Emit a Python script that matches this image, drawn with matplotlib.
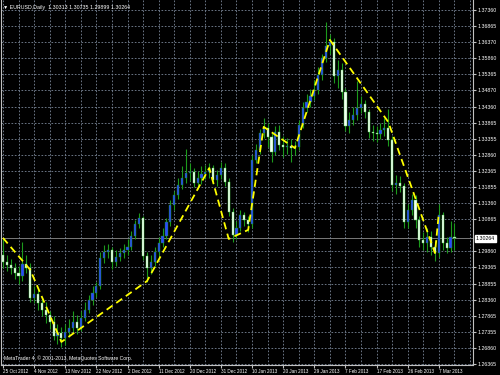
"""EURUSD 日足（MT4 風）：ローソク足 + 黄色の破線ジグザグ。"""
import matplotlib

matplotlib.use("Agg")
import matplotlib.pyplot as plt
import numpy as np

# daily closes, 25 Oct 2012 .. 11 Mar 2013
closes = [
    1.2953, 1.2944, 1.2935, 1.2919, 1.2910, 1.2947, 1.2935, 1.2842, 1.2854, 1.2826,
    1.2804, 1.2789, 1.2767, 1.2724, 1.2733, 1.2717, 1.2736, 1.2748, 1.2767, 1.2748,
    1.2779, 1.2804, 1.2835, 1.2857, 1.2879, 1.2966, 1.2984, 1.2991, 1.2953, 1.2969,
    1.2981, 1.2991, 1.3000, 1.3034, 1.3071, 1.3090, 1.2972, 1.2935, 1.2953, 1.2984,
    1.3012, 1.3034, 1.3078, 1.3130, 1.3161, 1.3193, 1.3214, 1.3230, 1.3233, 1.3199,
    1.3214, 1.3227, 1.3233, 1.3245, 1.3208, 1.3224, 1.3245, 1.3202, 1.3109, 1.3037,
    1.3059, 1.3099, 1.3084, 1.3071, 1.3270, 1.3301, 1.3354, 1.3370, 1.3342, 1.3295,
    1.3357, 1.3317, 1.3311, 1.3314, 1.3307, 1.3311, 1.3379, 1.3432, 1.3450, 1.3469,
    1.3488, 1.3534, 1.3587, 1.3624, 1.3637, 1.3531, 1.3550, 1.3481, 1.3376, 1.3394,
    1.3410, 1.3432, 1.3444, 1.3419, 1.3357, 1.3354, 1.3351, 1.3363, 1.3370, 1.3332,
    1.3193, 1.3199, 1.3189, 1.3078, 1.3115, 1.3146, 1.3084, 1.3022, 1.3012, 1.3031,
    1.3000, 1.2981, 1.3099, 1.3012, 1.2997, 1.3031, 1.30264,
]
highs = [
    1.3025, 1.2975, 1.2962, 1.2950, 1.2940, 1.3015, 1.2975, 1.2950, 1.2880, 1.2870,
    1.2845, 1.2830, 1.2800, 1.2785, 1.2760, 1.2750, 1.2760, 1.2775, 1.2800, 1.2790,
    1.2800, 1.2830, 1.2850, 1.2880, 1.2890, 1.2985, 1.3005, 1.3010, 1.3000, 1.2990,
    1.2998, 1.3010, 1.3025, 1.3050, 1.3085, 1.3105, 1.3095, 1.2985, 1.2975, 1.3000,
    1.3030, 1.3060, 1.3090, 1.3145, 1.3175, 1.3215, 1.3250, 1.3305, 1.3260, 1.3245,
    1.3235, 1.3250, 1.3255, 1.3260, 1.3255, 1.3240, 1.3265, 1.3260, 1.3215, 1.3120,
    1.3080, 1.3115, 1.3110, 1.3095, 1.3285, 1.3320, 1.3365, 1.3400, 1.3385, 1.3355,
    1.3375, 1.3380, 1.3345, 1.3340, 1.3335, 1.3330, 1.3395, 1.3450, 1.3475, 1.3490,
    1.3520, 1.3560, 1.3600, 1.3700, 1.3660, 1.3650, 1.3580, 1.3570, 1.3495, 1.3420,
    1.3435, 1.3515, 1.3470, 1.3455, 1.3430, 1.3380, 1.3375, 1.3385, 1.3400, 1.3430,
    1.3345, 1.3225, 1.3220, 1.3200, 1.3135, 1.3165, 1.3160, 1.3095, 1.3045, 1.3060,
    1.3050, 1.3020, 1.3135, 1.3110, 1.3030, 1.3080, 1.30735,
]
lows = [
    1.2935, 1.2925, 1.2915, 1.2900, 1.2885, 1.2895, 1.2920, 1.2830, 1.2825, 1.2805,
    1.2785, 1.2765, 1.2745, 1.2710, 1.2700, 1.2690, 1.2695, 1.2720, 1.2735, 1.2730,
    1.2740, 1.2770, 1.2795, 1.2820, 1.2845, 1.2870, 1.2950, 1.2965, 1.2930, 1.2940,
    1.2955, 1.2965, 1.2975, 1.2990, 1.3025, 1.3060, 1.2960, 1.2890, 1.2915, 1.2940,
    1.2970, 1.3000, 1.3025, 1.3065, 1.3115, 1.3150, 1.3180, 1.3200, 1.3205, 1.3185,
    1.3180, 1.3195, 1.3210, 1.3215, 1.3195, 1.3190, 1.3210, 1.3190, 1.3095, 1.3015,
    1.3025, 1.3050, 1.3065, 1.3045, 1.3060, 1.3260, 1.3290, 1.3340, 1.3310, 1.3265,
    1.3285, 1.3300, 1.3280, 1.3290, 1.3265, 1.3285, 1.3300, 1.3370, 1.3420, 1.3435,
    1.3455, 1.3475, 1.3520, 1.3575, 1.3600, 1.3510, 1.3495, 1.3460, 1.3360, 1.3355,
    1.3380, 1.3395, 1.3415, 1.3400, 1.3340, 1.3330, 1.3325, 1.3335, 1.3345, 1.3315,
    1.3175, 1.3165, 1.3170, 1.3060, 1.3060, 1.3100, 1.3060, 1.3000, 1.2990, 1.2985,
    1.2975, 1.2955, 1.2970, 1.2990, 1.2980, 1.2985, 1.29899,
]
first_open = 1.2975
# FX daily bars open at the previous close
opens = [first_open] + closes[:-1]

# yellow dashed zigzag (bar index, price)
zz_bars = [0, 7, 15, 37, 53, 58, 63, 67, 75, 84, 99, 111, 112]
zz_prices = [1.3028, 1.2929, 1.2705, 1.2894, 1.3245, 1.3025, 1.3053,
             1.3373, 1.3307, 1.3643, 1.3388, 1.2981, 1.3106]

date_labels = ["25 Oct 2012", "4 Nov 2012", "13 Nov 2012", "22 Nov 2012",
               "2 Dec 2012", "11 Dec 2012", "20 Dec 2012", "31 Dec 2012",
               "10 Jan 2013", "20 Jan 2013", "29 Jan 2013", "7 Feb 2013",
               "17 Feb 2013", "26 Feb 2013", "7 Mar 2013"]
price_ticks = [1.37360, 1.36865, 1.36370, 1.35860, 1.35365, 1.34870, 1.34360,
               1.33865, 1.33355, 1.32860, 1.32365, 1.31855, 1.31360, 1.30865,
               1.29860, 1.29365, 1.28855, 1.28360, 1.27865, 1.27355, 1.26860,
               1.26365]
bid = 1.30264
title = "\u25bc EURUSD,Daily  1.30313 1.30735 1.29899 1.30264"

plt.rcParams["font.family"] = ["Liberation Sans", "DejaVu Sans"]

fig = plt.figure(figsize=(5, 3.75), dpi=100, facecolor="black")
ax = fig.add_axes([0.002, 0.0267, 0.944, 0.9733], facecolor="black")

x = np.arange(len(closes))
o = np.array(opens); c = np.array(closes)
h = np.array(highs); l = np.array(lows)
bull = c >= o

ax.vlines(x, l, h, color="#1c9a1c", lw=0.8, zorder=2)
ax.bar(x[bull], (c - o)[bull], bottom=o[bull], width=0.55, color="#2a46ff",
       edgecolor="#1c9a1c", lw=0.3, zorder=3)
ax.bar(x[~bull], (o - c)[~bull], bottom=c[~bull], width=0.55, color="#f4fff4",
       edgecolor="#50d050", lw=0.3, zorder=3)

ax.plot(zz_bars, zz_prices, color="#ffff00", lw=1.3, ls=(0, (4, 2.5)), zorder=4)
ax.axhline(bid, color="#8c8c8c", lw=0.6, zorder=1.5)

ax.set_xlim(-0.513, 120.77)
ax.set_ylim(1.26334, 1.37671)

ax.set_xticks(np.arange(0, 8 * len(date_labels), 8))
ax.set_xticklabels(date_labels, ha="left")
ax.set_xticks(np.arange(0, 121, 4), minor=True)
ax.yaxis.tick_right()
ax.set_yticks(price_ticks)
ax.set_yticklabels([f"{p:.5f}" for p in price_ticks])

ax.tick_params(axis="x", which="major", labelsize=3.3, labelcolor="white",
               color="#c0c0c0", length=2, pad=1.2)
ax.tick_params(axis="x", which="minor", length=0)
ax.tick_params(axis="y", labelsize=3.8, labelcolor="white", color="#c0c0c0",
               length=2, pad=1.5)
ax.grid(which="both", axis="x", color="#7a8799", lw=0.6, ls=(0, (2, 2)), zorder=0)
ax.grid(which="major", axis="y", color="#7a8799", lw=0.6, ls=(0, (2, 2)), zorder=0)

for side in ("right", "bottom", "left"):
    ax.spines[side].set_color("#c0c0c0")
    ax.spines[side].set_linewidth(0.8)
ax.spines["top"].set_visible(False)

ax.annotate(f"{bid:.5f}", xy=(1.0, bid), xycoords=("axes fraction", "data"),
            xytext=(2, 0), textcoords="offset points", ha="left", va="center",
            fontsize=3.8, color="black",
            bbox=dict(boxstyle="square,pad=0.15", fc="white", ec="white"))

fig.text(0.006, 0.988, title, color="white", fontsize=3.8, va="top", ha="left")
ax.text(0.006, 0.012, "MetaTrader 4, \u00a9 2001-2013, MetaQuotes Software Corp.",
        transform=ax.transAxes, color="white", fontsize=3.6, va="bottom", ha="left")

fig.savefig("out.png", dpi=100, facecolor="black")
